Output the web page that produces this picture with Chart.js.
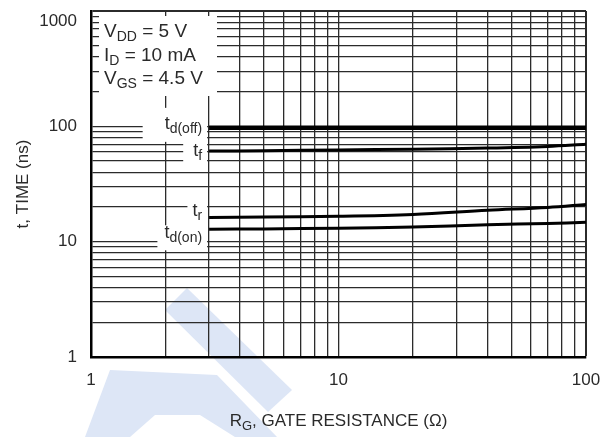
<!DOCTYPE html>
<html lang="en">
<head>
<meta charset="UTF-8">
<title>Switching Time vs Gate Resistance</title>
<style>
    body, html {
        margin: 0;
        padding: 0;
        background: #fff;
    }
    #chartBox {
        width: 611px;
        height: 437px;
    }
</style>
</head>
<body>
<div id="chartBox"><canvas id="timeChart" width="611" height="437"></canvas></div>
<script src="https://cdn.jsdelivr.net/npm/chart.js"></script>
<script>
// gate resistance (ohm) where the curves were read
const rgValues = [3, 5, 10, 20, 40, 70, 100];
// switching times (ns)
const tdOffTimes = [97, 97, 97, 97, 97, 97, 97];
const tfTimes = [61, 61.5, 62.5, 63.3, 64.8, 67, 70];
const trTimes = [16.2, 16.4, 16.6, 17.2, 18.7, 19.8, 21];
const tdOnTimes = [12.8, 12.9, 13.1, 13.4, 14.0, 14.4, 14.7];

const xGridValues = [1, 2, 3, 4, 5, 6, 7, 8, 9, 10, 20, 30, 40, 50, 60, 70, 80, 90, 100];
const yGridValues = [1, 2, 3, 4, 5, 6, 7, 8, 9, 10, 20, 30, 40, 50, 60, 70, 80, 90,
                     100, 200, 300, 400, 500, 600, 700, 800, 900, 1000];
const xTickLabels = ['1', '10', '100'];
const yTickLabels = ['1', '10', '100', '1000'];

const conditions = [['V', 'DD', ' = 5 V'], ['I', 'D', ' = 10 mA'], ['V', 'GS', ' = 4.5 V']];
const curveNames = [['t', 'd(off)'], ['t', 'f'], ['t', 'r'], ['t', 'd(on)']];
const curveSeries = [tdOffTimes, tfTimes, trTimes, tdOnTimes];

const FONT = '"Liberation Sans", Arial, sans-serif';
const TEXT = '#2a2a2a';

// label placement around the left end of each curve
const labelStyle = [
    { dy: 1, padL: 22, up: 21, down: 13 },
    { dy: 5, padL: 10, up: 13, down: 8 },
    { dy: -2, padL: 5, up: 14, down: 8 },
    { dy: 9, padL: 7, up: 13, down: 12 }
];

function toPoints(ys) {
    return rgValues.map((x, i) => ({ x: x, y: ys[i] }));
}

function drawSub(ctx, x, y, main, sub, rest, size, subSize, drop) {
    ctx.font = size + 'px ' + FONT;
    ctx.fillText(main, x, y);
    x += ctx.measureText(main).width;
    ctx.font = subSize + 'px ' + FONT;
    ctx.fillText(sub, x, y + drop);
    x += ctx.measureText(sub).width;
    if (rest) {
        ctx.font = size + 'px ' + FONT;
        ctx.fillText(rest, x, y);
        x += ctx.measureText(rest).width;
    }
    return x;
}

function subWidth(ctx, main, sub, rest, size, subSize) {
    ctx.font = size + 'px ' + FONT;
    let w = ctx.measureText(main).width + (rest ? ctx.measureText(rest).width : 0);
    ctx.font = subSize + 'px ' + FONT;
    return w + ctx.measureText(sub).width;
}

const paperPlugin = {
    id: 'paper',
    beforeDraw(chart) {
        const ctx = chart.ctx;
        ctx.save();
        ctx.fillStyle = '#fff';
        ctx.fillRect(0, 0, chart.width, chart.height);
        // faint watermark behind the grid
        ctx.fillStyle = '#dde6f6';
        ctx.beginPath();
        ctx.moveTo(165, 310); ctx.lineTo(187, 288); ctx.lineTo(292, 390); ctx.lineTo(268, 412);
        ctx.closePath();
        ctx.fill();
        ctx.beginPath();
        ctx.moveTo(110, 370); ctx.lineTo(217, 375); ctx.lineTo(277, 437); ctx.lineTo(235, 437);
        ctx.lineTo(200, 415); ctx.lineTo(155, 415); ctx.lineTo(130, 437); ctx.lineTo(85, 437);
        ctx.closePath();
        ctx.fill();
        ctx.restore();
    },
    afterDatasetsDraw(chart) {
        const ctx = chart.ctx;
        const area = chart.chartArea;
        const xs = chart.scales.x;
        const ys = chart.scales.y;
        ctx.save();
        ctx.textBaseline = 'alphabetic';
        ctx.textAlign = 'left';

        // test conditions box
        ctx.fillStyle = '#fff';
        ctx.fillRect(area.left + 8, area.top + 5, 118, 80);
        ctx.fillStyle = TEXT;
        conditions.forEach((c, i) => {
            drawSub(ctx, area.left + 13, area.top + 26 + i * 23.5, c[0], c[1], c[2], 19, 14, 4);
        });

        // curve names, right aligned just left of the curve start
        const endX = xs.getPixelForValue(rgValues[0]) - 2;
        curveNames.forEach((n, i) => {
            const st = labelStyle[i];
            const base = ys.getPixelForValue(curveSeries[i][0]) + st.dy;
            const w = subWidth(ctx, n[0], n[1], '', 18, 14);
            const x0 = endX - 5 - w;
            ctx.fillStyle = '#fff';
            ctx.fillRect(x0 - st.padL, base - st.up, endX - x0 + st.padL, st.up + st.down);
            ctx.fillStyle = TEXT;
            drawSub(ctx, x0, base, n[0], n[1], '', 18, 14, 4);
        });

        // x axis title with subscript
        const tw = subWidth(ctx, 'R', 'G', ', GATE RESISTANCE (\u03A9)', 17, 13);
        const tx = (area.left + area.right) / 2 - tw / 2;
        drawSub(ctx, tx, area.bottom + 69, 'R', 'G', ', GATE RESISTANCE (\u03A9)', 17, 13, 4);
        ctx.restore();
    }
};

const ctx = document.getElementById('timeChart').getContext('2d');

const lineSet = (data, width) => ({
    data: toPoints(data),
    borderColor: '#000',
    borderWidth: width,
    pointRadius: 0,
    tension: 0.35,
    fill: false
});

// top label sits a little below its grid line, like in the printed sheet
function yLabel(v) {
    const s = String(v);
    if (!yTickLabels.includes(s)) return '';
    return v === 1000 ? ['', s] : s;
}

new Chart(ctx, {
    type: 'line',
    data: {
        datasets: [
            lineSet(tdOffTimes, 4.5),
            lineSet(tfTimes, 3),
            lineSet(trTimes, 3),
            lineSet(tdOnTimes, 3)
        ]
    },
    options: {
        responsive: false,
        animation: false,
        layout: { padding: { top: 11, right: 25, bottom: 0, left: 0 } },
        plugins: {
            legend: { display: false },
            tooltip: { enabled: false }
        },
        scales: {
            x: {
                type: 'logarithmic',
                min: 1,
                max: 100,
                afterBuildTicks: scale => { scale.ticks = xGridValues.map(v => ({ value: v })); },
                afterFit: scale => {
                    scale.height = 80;
                    scale.paddingLeft = 0;
                    scale.paddingRight = 0;
                },
                grid: {
                    color: '#2b2b2b',
                    lineWidth: c => (c.tick && c.tick.value === 100 ? 2 : 1.3),
                    drawTicks: false
                },
                border: { color: '#000', width: 2.5 },
                ticks: {
                    autoSkip: false,
                    maxRotation: 0,
                    padding: 13,
                    color: TEXT,
                    font: { family: FONT, size: 17 },
                    callback: v => (xTickLabels.includes(String(v)) ? String(v) : '')
                }
            },
            y: {
                type: 'logarithmic',
                min: 1,
                max: 1000,
                afterBuildTicks: scale => { scale.ticks = yGridValues.map(v => ({ value: v })); },
                afterFit: scale => {
                    scale.width = 91;
                    scale.paddingTop = 0;
                    scale.paddingBottom = 0;
                },
                grid: {
                    color: '#2b2b2b',
                    lineWidth: c => (c.tick && c.tick.value === 1000 ? 2 : 1.3),
                    drawTicks: false
                },
                border: { color: '#000', width: 2.5 },
                ticks: {
                    autoSkip: false,
                    padding: 14,
                    color: TEXT,
                    font: { family: FONT, size: 17 },
                    callback: yLabel
                },
                title: {
                    display: true,
                    text: 't, TIME (ns)',
                    color: TEXT,
                    font: { family: FONT, size: 17 },
                    padding: { top: 13, bottom: 0 }
                }
            }
        }
    },
    plugins: [paperPlugin]
});
</script>
</body>
</html>
